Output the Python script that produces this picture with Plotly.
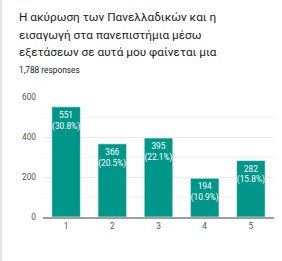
import plotly.graph_objects as go

categories = ["1", "2", "3", "4", "5"]
counts = [551, 366, 395, 194, 282]
percents = ["30.8%", "20.5%", "22.1%", "10.9%", "15.8%"]
title_lines = ["Η ακύρωση των Πανελλαδικών και η",
               "εισαγωγή στα πανεπιστήμια μέσω",
               "εξετάσεων σε αυτά μου φαίνεται μια"]
subtitle = "1,788 responses"
ytick_vals = [0, 200, 400, 600]

labels = [f"{c}<br>({p})" for c, p in zip(counts, percents)]

fig = go.Figure(go.Bar(
    x=categories, y=counts, text=labels, textposition="inside",
    insidetextanchor="end", textangle=0,
    textfont=dict(color="white", size=8.3, family="Roboto"),
    marker=dict(color="#00968a", line=dict(color="rgba(255,255,255,0.6)", width=1)),
    hoverinfo="skip"))

fig.update_layout(
    width=282, height=261, margin=dict(l=43, r=8, t=97, b=44),
    paper_bgcolor="white", plot_bgcolor="white", bargap=0.38,
    showlegend=False, font=dict(family="Roboto", color="#444"),
    uniformtext=dict(minsize=8, mode="show"),
)
fig.update_yaxes(range=[0, 600], tickvals=ytick_vals, ticktext=[str(v) for v in ytick_vals],
                 showgrid=True, gridcolor="#ececec", gridwidth=1,
                 minor=dict(dtick=100, showgrid=True, gridcolor="#f5f5f5"),
                 tickfont=dict(size=8.3, color="#555"), zeroline=False, ticks="", ticklabelstandoff=6)
fig.update_xaxes(showline=True, linecolor="#9e9e9e", linewidth=2, ticks="",
                 tickfont=dict(size=8.3, color="#555"), showgrid=False)

for i, line in enumerate(title_lines):
    fig.add_annotation(text=line, xref="paper", yref="paper", x=0, xshift=-26,
                       y=1, yshift=97 - 17 - 17.5 * i, xanchor="left", yanchor="middle",
                       showarrow=False, font=dict(size=11.8, color="#202124", family="Roboto"))
fig.add_annotation(text=subtitle, xref="paper", yref="paper", x=0, xshift=-26,
                   y=1, yshift=97 - 70, xanchor="left", yanchor="middle",
                   showarrow=False, font=dict(size=8.3, color="#202124", family="Roboto"))

fig.add_shape(type="line", xref="paper", yref="paper", x0=-42/231, x1=-42/231,
              y0=-44/120, y1=(120+97)/120, line=dict(color="#dadce0", width=1.5))

fig.write_html("out.html")
